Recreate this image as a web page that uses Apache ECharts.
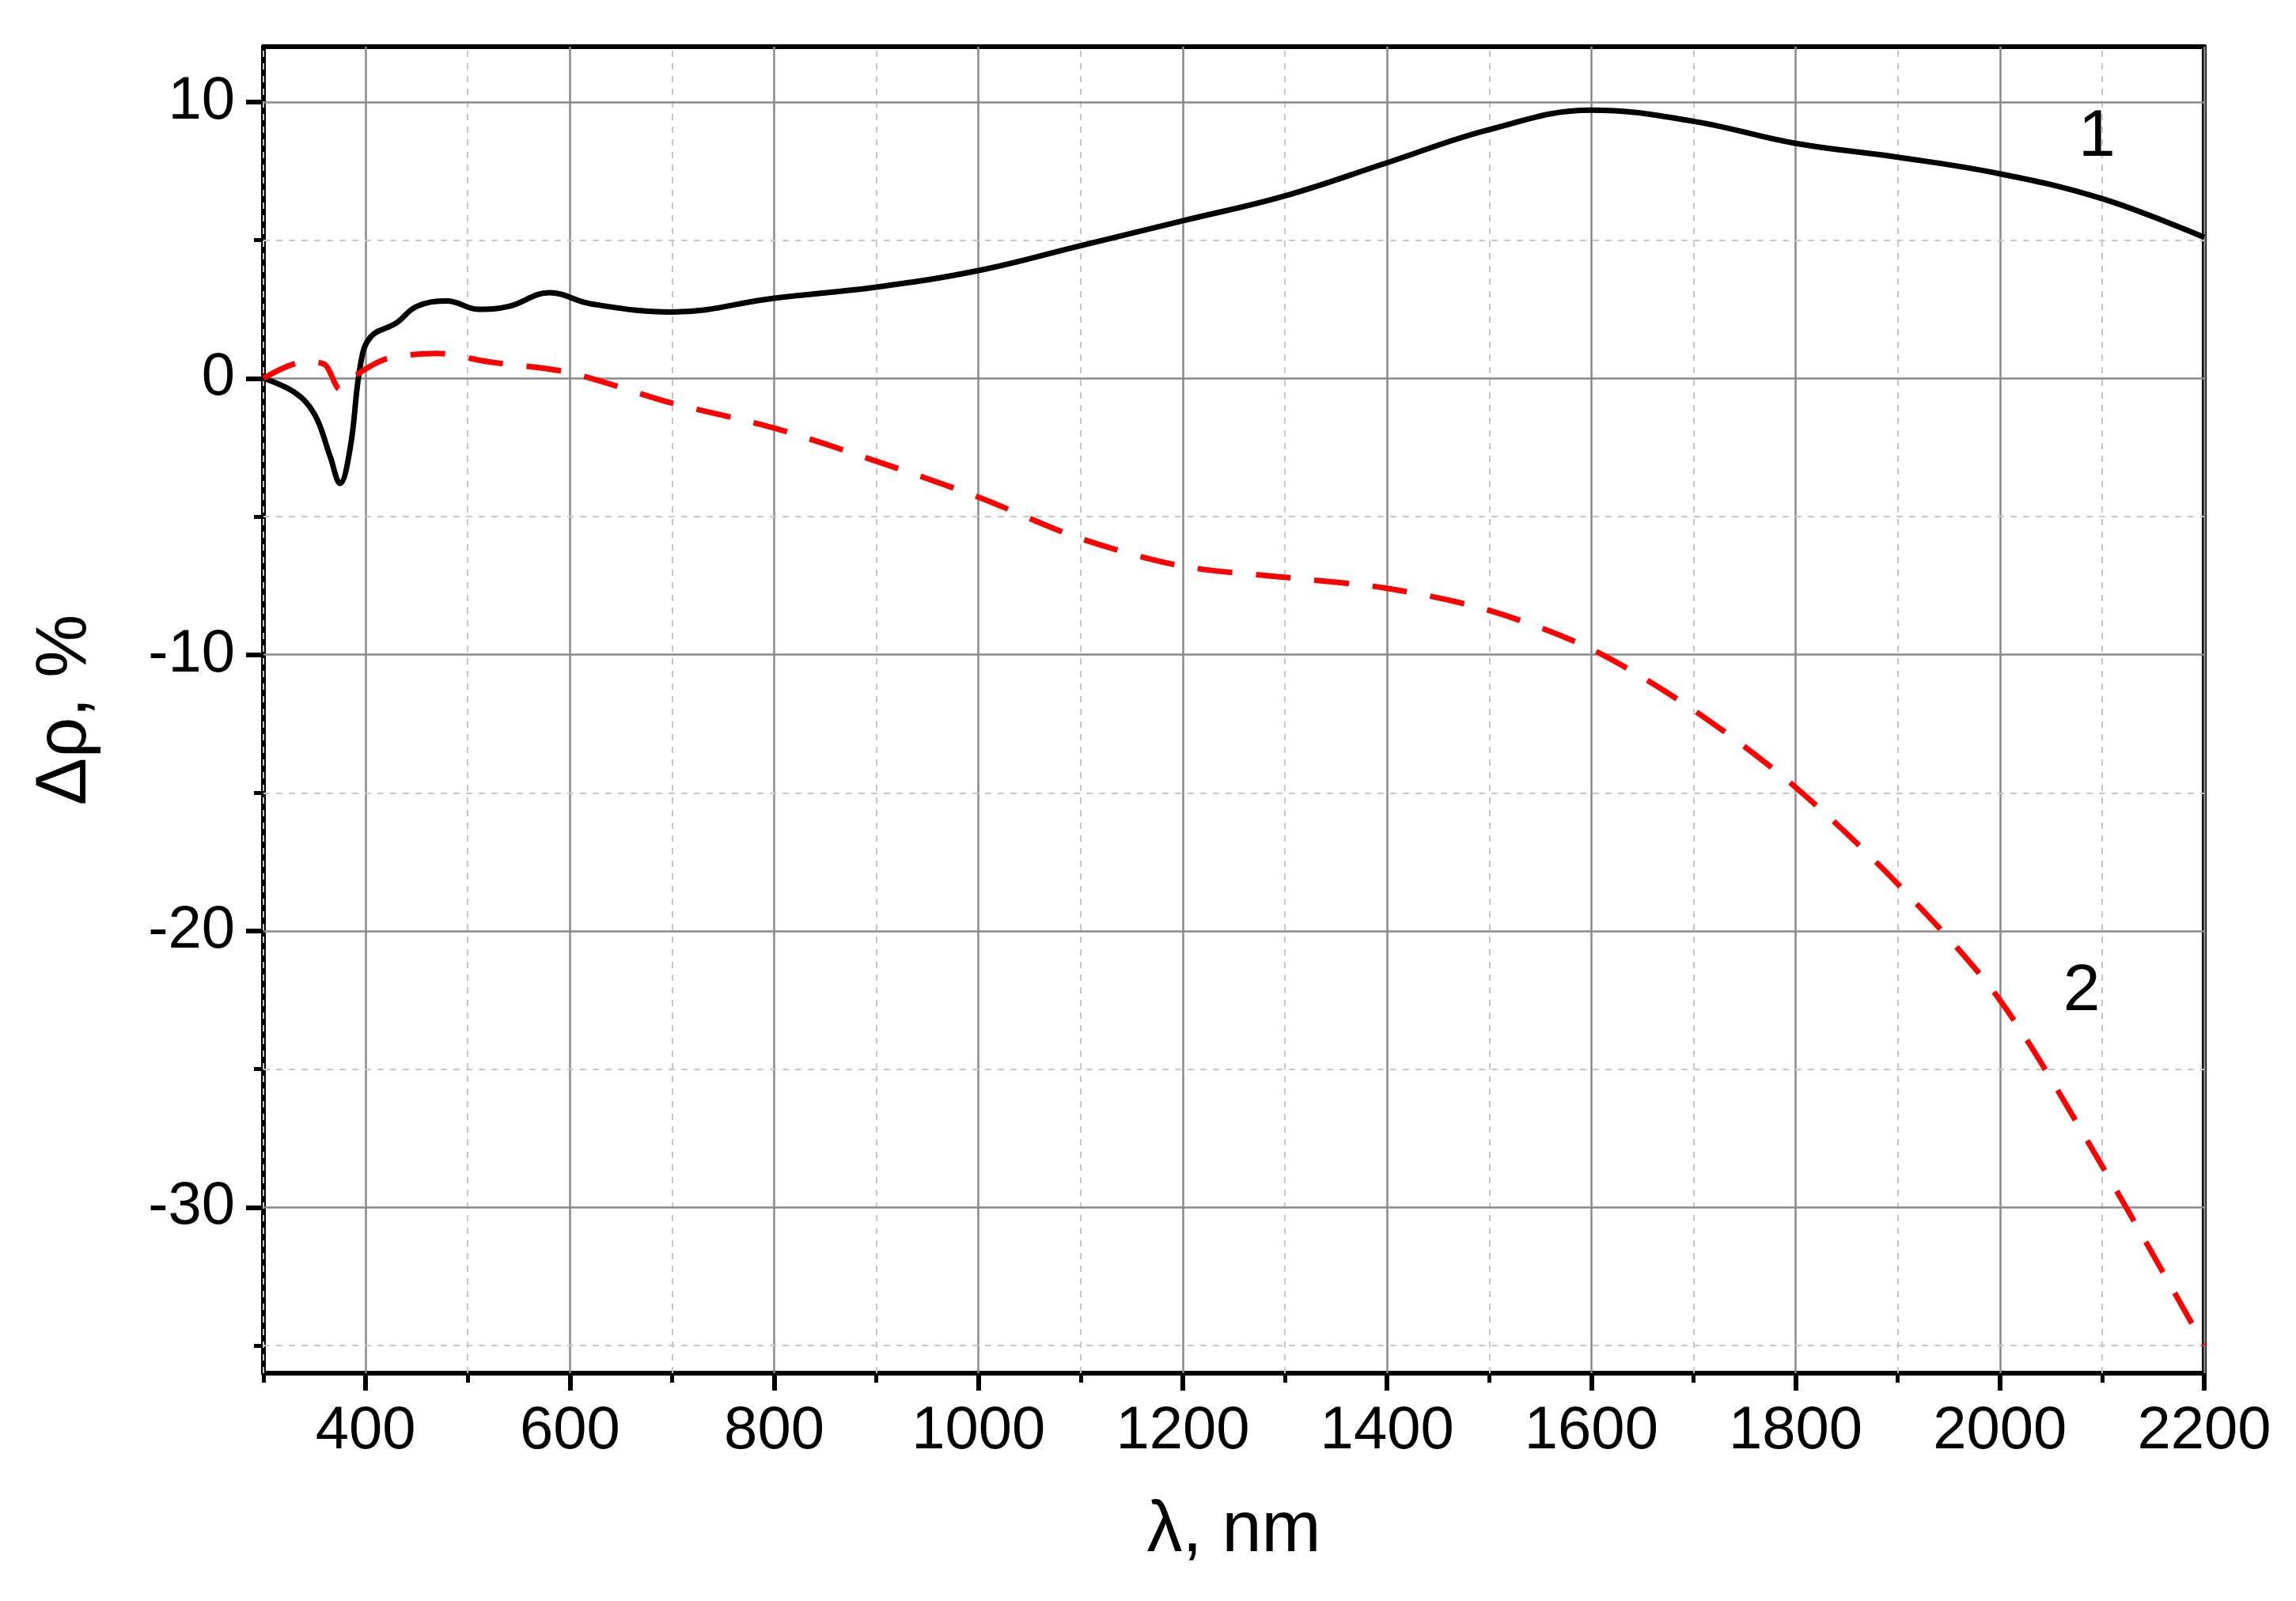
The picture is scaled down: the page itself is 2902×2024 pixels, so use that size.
<!DOCTYPE html>
<html>
<head>
<meta charset="UTF-8">
<script src="https://cdn.jsdelivr.net/npm/echarts@6/dist/echarts.min.js"></script>
<style>html,body{margin:0;padding:0;background:#fff}#main{width:2902px;height:2024px}</style>
</head>
<body>
<div id="main"></div>
<script>
// curve 1 (solid black)
var x1 = [300,330,350,365,375,385,395,405,430,450,480,510,540,580,620,700,800,900,1000,1100,1200,1300,1400,1500,1600,1700,1800,1900,2000,2100,2200];
var y1 = [0,-0.5,-1.3,-2.8,-3.8,-2.5,0.5,1.5,2.0,2.6,2.8,2.5,2.6,3.1,2.7,2.4,2.9,3.3,3.9,4.8,5.7,6.6,7.8,9.0,9.7,9.3,8.5,8.0,7.4,6.5,5.1];
// curve 2 (dashed red)
var x2 = [300,340,360,375,390,420,470,520,600,700,800,900,1000,1100,1200,1300,1400,1500,1600,1700,1800,1900,2000,2100,2200];
var y2 = [0,0.6,0.5,-0.4,0.1,0.7,0.9,0.6,0.2,-0.9,-1.8,-3.0,-4.3,-5.8,-6.8,-7.2,-7.6,-8.4,-9.8,-12,-14.8,-18.3,-22.5,-28.5,-35];
var xMajor = [400,600,800,1000,1200,1400,1600,1800,2000,2200];
var xMinor = [300,500,700,900,1100,1300,1500,1700,1900,2100];
var yMajor = [-30,-20,-10,0,10];
var yMinor = [-35,-25,-15,-5,5];
var curveLabels = [[2095, 8.7, '1'], [2080, -22.2, '2']];

function pairs(xs, ys) { return xs.map(function (x, i) { return [x, ys[i]]; }); }
var font = 'Liberation Sans, Arial, sans-serif';
var gridMajor = {color: '#8a8a8a', width: 2.5, type: 'solid'};
var gridMinor = {color: '#c8c8c8', width: 2, type: [8, 8]};
var marks = [];
xMajor.forEach(function (v) { marks.push({xAxis: v, lineStyle: gridMajor}); });
xMinor.forEach(function (v) { marks.push({xAxis: v, lineStyle: gridMinor}); });
yMajor.forEach(function (v) { marks.push({yAxis: v, lineStyle: gridMajor}); });
yMinor.forEach(function (v) { marks.push({yAxis: v, lineStyle: gridMinor}); });

function axisBase() {
  return {
    axisLine: {onZero: false, lineStyle: {color: '#000', width: 6}},
    splitLine: {show: false}
  };
}
var plain = function (v) { return String(v); };
var chart = echarts.init(document.getElementById('main'));
chart.setOption({
  animation: false,
  grid: {left: 333, right: 116, top: 59, bottom: 288},
  xAxis: [
    Object.assign(axisBase(), {
      type: 'value', min: 300, max: 2200, position: 'bottom',
      name: 'λ, nm', nameLocation: 'middle', nameGap: 155,
      nameTextStyle: {fontFamily: font, fontSize: 90, color: '#000'},
      axisTick: {customValues: xMajor, length: 22, lineStyle: {color: '#000', width: 6}},
      axisLabel: {customValues: xMajor, formatter: plain, fontFamily: font, fontSize: 76, color: '#000', margin: 36}
    }),
    Object.assign(axisBase(), {
      type: 'value', min: 300, max: 2200, position: 'bottom',
      axisTick: {customValues: xMinor, length: 12, lineStyle: {color: '#000', width: 5}},
      axisLabel: {show: false}
    }),
    Object.assign(axisBase(), {
      type: 'value', min: 300, max: 2200, position: 'top',
      axisTick: {show: false}, axisLabel: {show: false}
    })
  ],
  yAxis: [
    Object.assign(axisBase(), {
      type: 'value', min: -36, max: 12, position: 'left',
      name: 'Δρ, %', nameLocation: 'middle', nameGap: 205,
      nameTextStyle: {fontFamily: font, fontSize: 90, color: '#000'},
      axisTick: {customValues: yMajor, length: 22, lineStyle: {color: '#000', width: 6}},
      axisLabel: {customValues: yMajor, formatter: plain, fontFamily: font, fontSize: 76, color: '#000', margin: 36}
    }),
    Object.assign(axisBase(), {
      type: 'value', min: -36, max: 12, position: 'left',
      axisTick: {customValues: yMinor, length: 12, lineStyle: {color: '#000', width: 5}},
      axisLabel: {show: false}
    }),
    Object.assign(axisBase(), {
      type: 'value', min: -36, max: 12, position: 'right',
      axisTick: {show: false}, axisLabel: {show: false}
    })
  ],
  series: [
    {
      type: 'line', data: [], silent: true,
      markLine: {silent: true, symbol: 'none', label: {show: false}, data: marks, animation: false}
    },
    {
      type: 'line', data: pairs(x1, y1), smooth: 0.4, showSymbol: false, z: 5,
      lineStyle: {color: '#000', width: 7}
    },
    {
      type: 'line', data: pairs(x2, y2), smooth: 0.3, showSymbol: false, z: 5,
      lineStyle: {color: '#ff0000', width: 7, type: [44, 30]}
    },
    {
      type: 'scatter', symbolSize: 0, z: 6,
      data: curveLabels.map(function (d) { return {value: [d[0], d[1]], name: d[2]}; }),
      label: {show: true, position: 'inside', formatter: '{b}', fontFamily: font, fontSize: 84, color: '#000', opacity: 1},
      itemStyle: {opacity: 1}
    }
  ]
});
</script>
</body>
</html>
